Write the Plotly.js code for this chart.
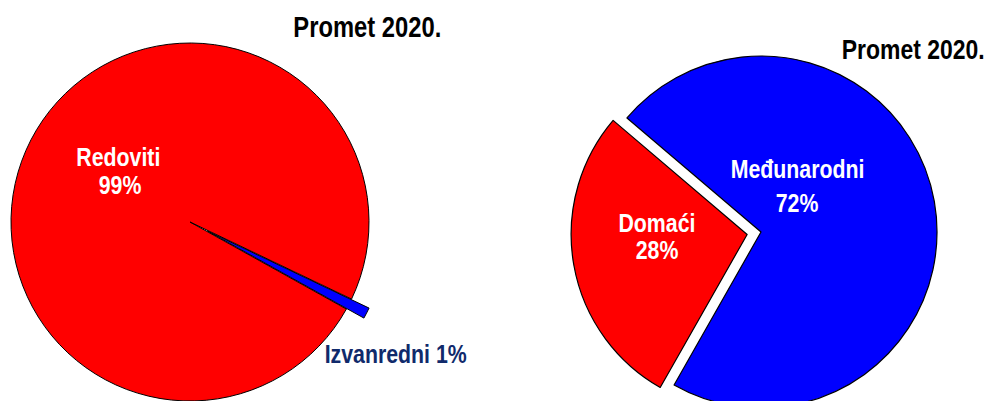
<!DOCTYPE html>
<html><head><meta charset="utf-8">
<script src="https://cdn.plot.ly/plotly-3.0.1.min.js"></script>
<style>
html,body{margin:0;padding:0;overflow:hidden;background:#fff;width:988px;height:401px}
#chart{position:absolute;left:-40px;top:0;width:1028px;height:460px}
/* narrow (Arial Narrow-like) rendering of the bold labels */
#chart .annotation-text{transform-box:fill-box;transform-origin:50% 50%;transform:scaleX(0.82)}
</style>
</head><body><div id="chart"></div>
<script>
// ---- data ----
const leftLabels = ['Izvanredni', 'Redoviti'];
const leftValues = [1, 99];
const rightLabels = ['Međunarodni', 'Domaći'];
const rightValues = [72, 28];
const chartTitles = ['Promet 2020.', 'Promet 2020.'];

// ---- geometry (page pixels) ----
const OX = 40, W = 1028, H = 460;
const FONT = '"Liberation Sans", Arial, sans-serif';
function dom(cx, cy, r, pull) {
  const h = r * (1 + pull);
  return {x: [(cx + OX - h) / W, (cx + OX + h) / W], y: [1 - (cy + h) / H, 1 - (cy - h) / H]};
}
const px = x => (x + OX) / W;
const py = y => 1 - y / H;
const pct = (vals, i) => Math.round(vals[i] / vals.reduce((a, b) => a + b, 0) * 100) + '%';

const traces = [
  {type: 'pie', labels: leftLabels, values: leftValues, sort: false, direction: 'clockwise',
   rotation: 115.5, pull: [0.11, 0], textinfo: 'none', hoverinfo: 'skip',
   marker: {colors: ['#0000ff', '#ff0000'], line: {color: '#000', width: 1}},
   domain: dom(190, 222, 179, 0.11), showlegend: false},
  {type: 'pie', labels: rightLabels, values: rightValues, sort: false, direction: 'clockwise',
   rotation: -49.6, pull: [0, 0.08], textinfo: 'none', hoverinfo: 'skip',
   marker: {colors: ['#0000ff', '#ff0000'], line: {color: '#000', width: 1.2}},
   domain: dom(761, 232, 176, 0.08), showlegend: false}
];

function ann(text, x, y, size, color) {
  return {text: text, x: px(x), y: py(y), xref: 'paper', yref: 'paper', showarrow: false,
    xanchor: 'center', yanchor: 'middle', font: {family: FONT, size: size, color: color, weight: 'bold'}};
}
const annotations = [
  ann(chartTitles[0], 367, 27, 29, '#000'),
  ann(chartTitles[1], 913, 49.5, 28, '#000'),
  ann(leftLabels[1], 118, 156.5, 26, '#fff'),
  ann(pct(leftValues, 1), 120, 185.5, 26, '#fff'),
  ann(leftLabels[0] + ' ' + pct(leftValues, 0), 395, 353.5, 26, '#102a6b'),
  ann(rightLabels[0], 797, 169.5, 26, '#fff'),
  ann(pct(rightValues, 0), 797, 202.5, 26, '#fff'),
  ann(rightLabels[1], 657, 222.5, 26, '#fff'),
  ann(pct(rightValues, 1), 657, 249.5, 26, '#fff')
];

Plotly.newPlot('chart', traces, {
  width: W, height: H, margin: {l: 0, r: 0, t: 0, b: 0},
  paper_bgcolor: '#fff', plot_bgcolor: '#fff', showlegend: false,
  annotations: annotations
}, {staticPlot: true, displayModeBar: false});
</script>
</body></html>
